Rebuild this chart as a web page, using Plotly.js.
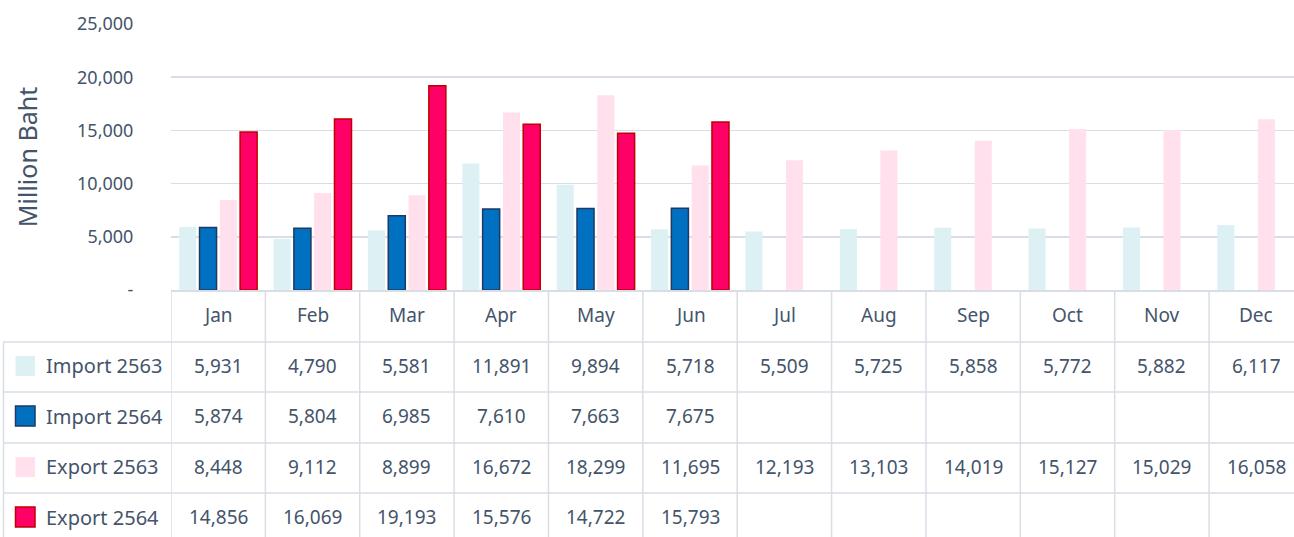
<!DOCTYPE html>
<html>
<head>
<meta charset="utf-8">
<script src="https://cdn.plot.ly/plotly-3.0.1.min.js"></script>
<style>html,body{margin:0;padding:0;background:#fff;overflow:hidden}#chart{width:1294px;height:537px}</style>
</head>
<body>
<div id="chart"></div>
<script>
var months = ['Jan','Feb','Mar','Apr','May','Jun','Jul','Aug','Sep','Oct','Nov','Dec'];
var import2563 = [5931,4790,5581,11891,9894,5718,5509,5725,5858,5772,5882,6117];
var import2564 = [5874,5804,6985,7610,7663,7675,null,null,null,null,null,null];
var export2563 = [8448,9112,8899,16672,18299,11695,12193,13103,14019,15127,15029,16058];
var export2564 = [14856,16069,19193,15576,14722,15793,null,null,null,null,null,null];
var seriesNames = ['Import 2563','Import 2564','Export 2563','Export 2564'];
var yTickVals = [0,5000,10000,15000,20000,25000];
var yTickText = ['-','5,000','10,000','15,000','20,000','25,000'];

var fills = ['#DDF0F4','#0070C0','#FFE0EC','#FF0066'];
var borders = ['#DDF0F4','#1F3864','#FFE0EC','#C00000'];
var borderW = [0,1.5,0,1.5];
var seriesData = [import2563, import2564, export2563, export2564];

var TEXT = '#44546A';
var GRID = '#D9DEE6';
var FONT = 'Noto Sans, sans-serif';

var W = 1294, H = 537;
var mL = 171, mR = 0, mT = 24, mB = 247;
var plotW = W - mL - mR, plotH = H - mT - mB;
function px2paperY(py){ return (H - mB - py) / plotH; }
function px2paperX(px){ return (px - mL) / plotW; }

var traces = seriesData.map(function(d, i){
  return {
    type: 'bar', name: seriesNames[i], x: months, y: d,
    marker: {color: fills[i], line: {color: borders[i], width: borderW[i]}},
    hoverinfo: 'skip'
  };
});

var shapes = [];
var annotations = [];
var rowLines = [342, 392, 443, 493, 543];
var headerCenter = 315;
var rowCenters = [366, 416, 467, 517];

for (var i = 0; i <= 12; i++) {
  shapes.push({type:'line', xref:'x', yref:'paper', x0:i-0.5, x1:i-0.5,
    y0:px2paperY(290), y1:px2paperY(545), line:{color:GRID, width:1.5}, layer:'above'});
}
shapes.push({type:'line', xref:'paper', yref:'paper', x0:px2paperX(3.5), x1:px2paperX(3.5),
  y0:px2paperY(342), y1:px2paperY(545), line:{color:GRID, width:1.5}});
rowLines.forEach(function(py){
  shapes.push({type:'line', xref:'paper', yref:'paper', x0:px2paperX(3), x1:1.02,
    y0:px2paperY(py), y1:px2paperY(py), line:{color:GRID, width:1.5}});
});

months.forEach(function(m){
  annotations.push({xref:'x', yref:'paper', x:m, y:px2paperY(headerCenter), text:m,
    showarrow:false, font:{family:FONT, size:19, color:TEXT}, xanchor:'center', yanchor:'middle'});
});
seriesData.forEach(function(d, r){
  d.forEach(function(v, c){
    if (v === null) return;
    annotations.push({xref:'x', yref:'paper', x:months[c], y:px2paperY(rowCenters[r]),
      text:v.toLocaleString('en-US'), showarrow:false,
      font:{family:FONT, size:19, color:TEXT}, xanchor:'center', yanchor:'middle'});
  });
  annotations.push({xref:'paper', yref:'paper', x:px2paperX(44), y:px2paperY(rowCenters[r]),
    text:seriesNames[r], showarrow:false, font:{family:FONT, size:20, color:TEXT},
    xanchor:'left', yanchor:'middle'});
  shapes.push({type:'rect', xref:'paper', yref:'paper',
    x0:px2paperX(15.5), x1:px2paperX(35), y0:px2paperY(rowCenters[r]+10), y1:px2paperY(rowCenters[r]-10),
    fillcolor:fills[r], line:{color:borders[r], width:borderW[r] ? 1.5 : 0}});
});

var layout = {
  width: W, height: H,
  margin: {l:mL, r:mR, t:mT, b:mB, pad:0},
  paper_bgcolor:'#fff', plot_bgcolor:'#fff',
  barmode:'group', bargap:0.14, bargroupgap:0.16,
  showlegend:false,
  font:{family:FONT, color:TEXT},
  xaxis:{type:'category', range:[-0.5, 11.4], showticklabels:false, ticks:'',
    showgrid:false, showline:true, linecolor:GRID, linewidth:1.5, fixedrange:true, zeroline:false},
  yaxis:{range:[0,25000], tickvals:yTickVals, ticktext:yTickText,
    tickfont:{family:FONT, size:18, color:TEXT}, ticks:'outside', ticklen:33, tickcolor:'rgba(0,0,0,0)',
    showgrid:true, gridcolor:GRID, gridwidth:1.5, zeroline:false, showline:false, fixedrange:true,
    title:{text:'Million Baht', font:{family:FONT, size:25, color:TEXT}, standoff:32}},
  shapes: shapes,
  annotations: annotations
};

Plotly.newPlot('chart', traces, layout, {displayModeBar:false, staticPlot:true});
</script>
</body>
</html>
